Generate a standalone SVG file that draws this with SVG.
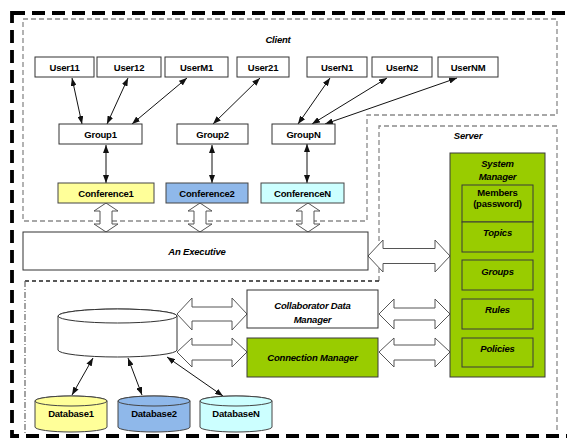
<svg xmlns="http://www.w3.org/2000/svg" width="567" height="443" viewBox="0 0 567 443">
  <style>
    .box { fill: #ffffff; stroke: #333333; stroke-width: 1; }
    .green { fill: #99cc00; stroke: #3a3a3a; stroke-width: 1; }
    .yellow { fill: #ffff99; stroke: #444444; stroke-width: 1; }
    .blue { fill: #8fb8ea; stroke: #444444; stroke-width: 1; }
    .cyan { fill: #ccffff; stroke: #444444; stroke-width: 1; }
    .t { font-family: "Liberation Sans", Arial, sans-serif; font-weight: bold; font-size: 9.5px; text-anchor: middle; fill: #000000; letter-spacing: -0.2px; }
    .i { font-style: italic; }
    .region { fill: none; stroke: #8a8a8a; stroke-width: 1.3; stroke-dasharray: 5 3; }
    .link { fill: none; stroke: #111111; stroke-width: 1; marker-start: url(#head); marker-end: url(#head); }
    .block { fill: #ffffff; stroke: #555555; stroke-width: 1; }
  </style>
  <defs>
    <marker id="head" markerUnits="userSpaceOnUse" markerWidth="8" markerHeight="6" refX="8" refY="3" orient="auto-start-reverse">
      <path d="M0,0 L8,3 L0,6 z" fill="#111111"/>
    </marker>
  </defs>

  <rect width="567" height="443" fill="#ffffff"/>

  <!-- outer frame -->
  <rect x="12" y="13" width="562" height="423" fill="none" stroke="#000000" stroke-width="3.8" stroke-dasharray="13 7"/>

  <!-- regions -->
  <g id="regions">
    <path class="region" d="M23,19 H557 V115 H367 V221 H23 Z"/>
    <path class="region" d="M379,281 V126 H557 V433"/>
    <path d="M25,281 H379" fill="none" stroke="#222222" stroke-width="1.5" stroke-dasharray="4 3"/>
    <path d="M25,281 V434" fill="none" stroke="#666666" stroke-width="1.2" stroke-dasharray="6 2 1 2"/>
    <text class="t i" x="278" y="43" font-size="11">Client</text>
    <text class="t i" x="468" y="139" font-size="11">Server</text>
  </g>

  <!-- connectors -->
  <g id="connectors">
    <line class="link" x1="72" y1="78" x2="82" y2="124"/>
    <line class="link" x1="128" y1="78" x2="107" y2="124"/>
    <line class="link" x1="187" y1="78" x2="132" y2="124"/>
    <line class="link" x1="260" y1="78" x2="213" y2="124"/>
    <line class="link" x1="330" y1="78" x2="298" y2="124"/>
    <line class="link" x1="387" y1="78" x2="312" y2="124"/>
    <line class="link" x1="457" y1="78" x2="325" y2="124"/>
    <line class="link" x1="106" y1="145" x2="106" y2="183"/>
    <line class="link" x1="212" y1="145" x2="212" y2="183"/>
    <line class="link" x1="307" y1="144" x2="307" y2="183"/>
    <line class="link" x1="93" y1="358" x2="72" y2="395"/>
    <line class="link" x1="128" y1="358" x2="142" y2="395"/>
    <line class="link" x1="167" y1="357" x2="223" y2="396"/>

    <!-- hollow double arrows: conferences to executive -->
    <path class="block" d="M106,203 L118,211 L112,211 L112,224 L118,224 L106,232 L94,224 L100,224 L100,211 L94,211 Z"/>
    <path class="block" d="M200,203 L212,211 L206,211 L206,224 L212,224 L200,232 L188,224 L194,224 L194,211 L188,211 Z"/>
    <path class="block" d="M308,203 L320,211 L314,211 L314,224 L320,224 L308,232 L296,224 L302,224 L302,211 L296,211 Z"/>

    <!-- hollow double arrows: horizontal -->
    <path class="block" d="M368,256 L383,240 L383,248.5 L435,248.5 L435,240 L450,256 L435,272 L435,263.5 L383,263.5 L383,272 Z"/>
    <path class="block" d="M379,314 L394,299 L394,308 L435,308 L435,299 L450,314 L435,329 L435,320 L394,320 L394,329 Z"/>
    <path class="block" d="M379,352 L394,338 L394,345 L435,345 L435,338 L450,352 L435,367 L435,360 L394,360 L394,367 Z"/>
    <path class="block" d="M177,314 L192,298 L192,307 L232,307 L232,298 L247,314 L232,330 L232,321 L192,321 L192,330 Z"/>
    <path class="block" d="M177,352 L192,338 L192,345 L232,345 L232,338 L247,352 L232,367 L232,360 L192,360 L192,367 Z"/>
  </g>

  <!-- users -->
  <g id="user11"><rect class="box" x="35" y="57" width="59" height="20"/><text class="t" x="64.5" y="70.5">User11</text></g>
  <g id="user12"><rect class="box" x="97" y="57" width="64" height="20"/><text class="t" x="129" y="70.5">User12</text></g>
  <g id="userM1"><rect class="box" x="165" y="57" width="63" height="20"/><text class="t" x="196.5" y="70.5">UserM1</text></g>
  <g id="user21"><rect class="box" x="237" y="57" width="52" height="20"/><text class="t" x="263" y="70.5">User21</text></g>
  <g id="userN1"><rect class="box" x="307" y="57" width="60" height="20"/><text class="t" x="337" y="70.5">UserN1</text></g>
  <g id="userN2"><rect class="box" x="372" y="57" width="60" height="20"/><text class="t" x="402" y="70.5">UserN2</text></g>
  <g id="userNM"><rect class="box" x="438" y="57" width="60" height="20"/><text class="t" x="468" y="70.5">UserNM</text></g>

  <!-- groups -->
  <g id="group1"><rect class="box" x="59" y="124" width="83" height="20"/><text class="t" x="100.5" y="137.5">Group1</text></g>
  <g id="group2"><rect class="box" x="177" y="124" width="71" height="20"/><text class="t" x="212.5" y="137.5">Group2</text></g>
  <g id="groupN"><rect class="box" x="272" y="124" width="63" height="20"/><text class="t" x="303.5" y="137.5">GroupN</text></g>

  <!-- conferences -->
  <g id="conference1"><rect class="yellow" x="58" y="183" width="96" height="20"/><text class="t" x="106" y="196.5" font-size="10.5">Conference1</text></g>
  <g id="conference2"><rect class="blue" x="166" y="183" width="82" height="20"/><text class="t" x="207" y="196.5" font-size="10.5">Conference2</text></g>
  <g id="conferenceN"><rect class="cyan" x="261" y="183" width="83" height="20"/><text class="t" x="302.5" y="196.5" font-size="10.5">ConferenceN</text></g>

  <!-- executive -->
  <g id="executive"><rect class="box" x="23" y="232" width="345" height="38"/><text class="t i" x="197" y="254.5" font-size="12">An Executive</text></g>

  <!-- system manager -->
  <g id="system-manager">
    <rect class="green" x="450" y="153" width="95" height="224"/>
    <text class="t i" x="497.5" y="167">System</text>
    <text class="t i" x="497.5" y="180">Manager</text>
  </g>
  <g id="members"><rect class="green" x="462" y="185" width="71" height="37"/><text class="t" x="497.5" y="195.5" font-size="7">Members</text><text class="t" x="497.5" y="206.5" font-size="7">(password)</text></g>
  <g id="topics"><rect class="green" x="462" y="222" width="71" height="30"/><text class="t i" x="497.5" y="235.5">Topics</text></g>
  <g id="groups"><rect class="green" x="462" y="260" width="71" height="30"/><text class="t i" x="497.5" y="275">Groups</text></g>
  <g id="rules"><rect class="green" x="462" y="299" width="71" height="30"/><text class="t i" x="497.5" y="312.5">Rules</text></g>
  <g id="policies"><rect class="green" x="462" y="338" width="71" height="29"/><text class="t i" x="497.5" y="351.5">Policies</text></g>

  <!-- managers -->
  <g id="collaborator-data-manager"><rect class="box" x="247" y="290" width="131" height="38"/><text class="t i" x="312.5" y="308.5" font-size="10">Collaborator Data</text><text class="t i" x="312.5" y="322.5" font-size="10">Manager</text></g>
  <g id="connection-manager"><rect class="green" x="247" y="338" width="131" height="39"/><text class="t i" x="312.5" y="360.5" font-size="10">Connection Manager</text></g>

  <!-- central store -->
  <g id="store">
    <path class="box" d="M58,316 A59.5,7 0 0 1 177,316 V350 A59.5,7 0 0 1 58,350 Z"/>
    <ellipse class="box" cx="117.5" cy="316" rx="59.5" ry="7"/>
  </g>

  <!-- databases -->
  <g id="database1">
    <path class="yellow" d="M35,401 A36,5 0 0 1 107,401 V427 A36,5 0 0 1 35,427 Z"/>
    <ellipse class="yellow" cx="71" cy="401" rx="36" ry="5"/>
    <text class="t" x="71" y="417" font-size="10">Database1</text>
  </g>
  <g id="database2">
    <path class="blue" d="M118,401 A36,5 0 0 1 190,401 V427 A36,5 0 0 1 118,427 Z"/>
    <ellipse class="blue" cx="154" cy="401" rx="36" ry="5"/>
    <text class="t" x="154" y="417" font-size="10">Database2</text>
  </g>
  <g id="databaseN">
    <path class="cyan" d="M200,401 A36,5 0 0 1 272,401 V427 A36,5 0 0 1 200,427 Z"/>
    <ellipse class="cyan" cx="236" cy="401" rx="36" ry="5"/>
    <text class="t" x="236" y="417" font-size="10">DatabaseN</text>
  </g>
</svg>
